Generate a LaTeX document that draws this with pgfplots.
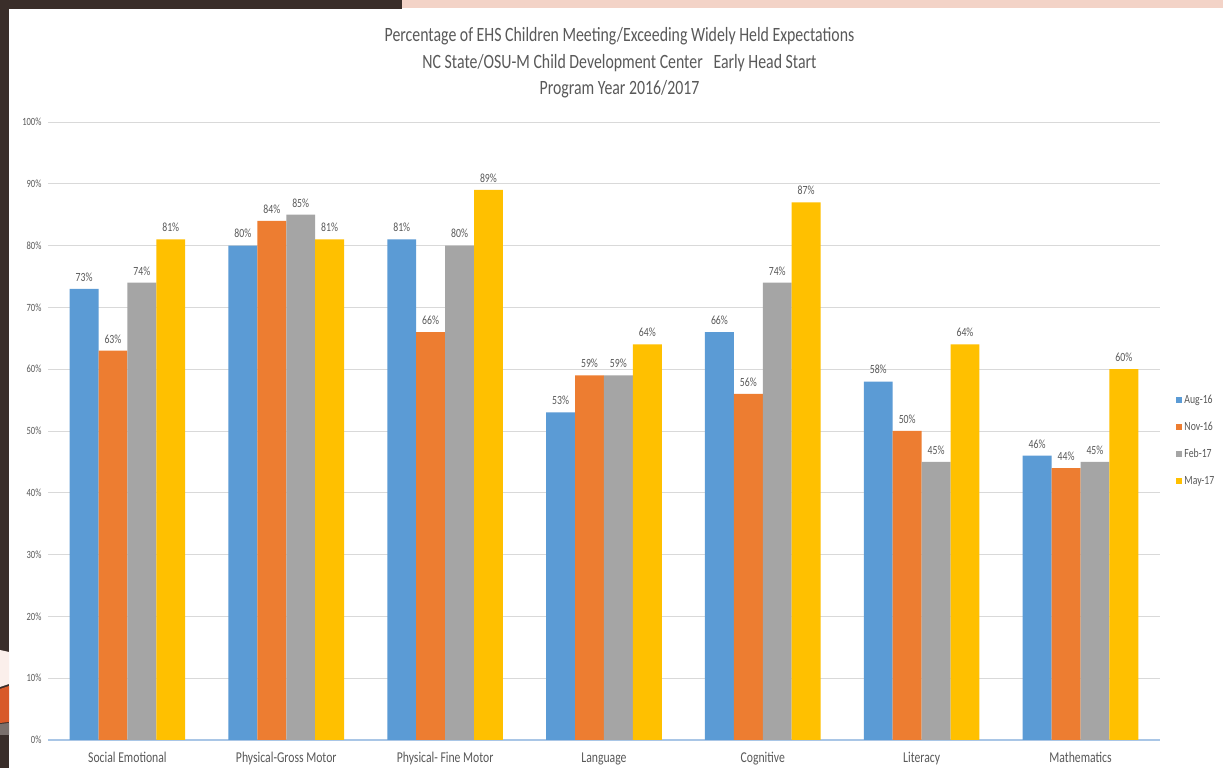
\documentclass[border=0pt]{standalone}
\usepackage{pgfplots}
\pgfplotsset{compat=1.18}
\usepackage{fontspec}
\setmainfont{Carlito}[FakeStretch=0.78]
\definecolor{cBlue}{HTML}{5B9BD5}
\definecolor{cOrange}{HTML}{ED7D31}
\definecolor{cGray}{HTML}{A5A5A5}
\definecolor{cYellow}{HTML}{FFC000}
\definecolor{txt}{HTML}{595959}
\definecolor{grid}{HTML}{D9D9D9}
\definecolor{axline}{HTML}{A9C6E6}
\definecolor{darkb}{HTML}{3A2E2A}
\definecolor{peach}{HTML}{F3D3C7}
\definecolor{lpeach}{HTML}{FBEFEB}
\definecolor{sorange}{HTML}{D85A2A}
\definecolor{sgray}{HTML}{7A706C}
\begin{document}
\begin{tikzpicture}[x=1pt,y=1pt]
\useasboundingbox (0,0) rectangle (1223,768);
\fill[white] (0,0) rectangle (1223,768);
% slide decoration
\fill[darkb] (0,0) rectangle (9,768);
\fill[darkb] (0,759) rectangle (402,768);
\fill[peach] (402,760) rectangle (1223,768);
\fill[lpeach] (0,81) -- (9,84) -- (9,116) -- (0,118) -- cycle;
\fill[sorange] (0,45) -- (9,46) -- (9,82) -- (0,79) -- cycle;
\fill[sgray] (0,33) -- (9,33) -- (9,45) -- (0,44) -- cycle;
% title
\node[text=txt, align=center, font=\fontsize{20.3}{26.5}\selectfont] at (619.5,705)
  {Percentage of EHS Children Meeting/Exceeding Widely Held Expectations\\
   NC State/OSU-M Child Development Center\ \ \ Early Head Start\\
   Program Year 2016/2017};
\begin{axis}[
  at={(48pt,28pt)}, anchor=south west,
  scale only axis, width=1112pt, height=618pt,
  xmin=-0.5, xmax=6.5, ymin=0, ymax=100,
  ybar=0pt, bar width=0.182,
  /pgf/number format/assume math mode=true,
  axis x line*=bottom, axis y line*=left,
  x axis line style={draw=axline, line width=1.2pt},
  y axis line style={draw=none},
  major tick length=0,
  ytick={0,10,...,100},
  yticklabel={\pgfmathprintnumber{\tick}\%},
  yticklabel style={font=\fontsize{11}{13}\selectfont, text=txt, xshift=-3pt},
  ymajorgrids, grid style={draw=grid, line width=0.8pt},
  xtick={0,...,6},
  xticklabels={Social Emotional, Physical-Gross Motor, Physical- Fine Motor, Language, Cognitive, Literacy, Mathematics},
  xticklabel style={font=\fontsize{15}{17}\selectfont, text=txt, yshift=-9pt},
  nodes near coords={\pgfmathprintnumber{\pgfplotspointmeta}\%},
  every node near coord/.append style={font=\fontsize{12.5}{14}\selectfont, text=txt, yshift=4pt},
  legend style={at={(1.012,0.485)}, anchor=west, draw=none, fill=none,
    font=\fontsize{12.5}{14}\selectfont, text=txt, row sep=13pt},
  legend cell align=left,
  legend image code/.code={\fill[#1,draw=none] (0pt,-3pt) rectangle (6pt,3pt);},
]
\addplot[fill=cBlue, draw=none] coordinates {(0,73) (1,80) (2,81) (3,53) (4,66) (5,58) (6,46)};
\addplot[fill=cOrange, draw=none] coordinates {(0,63) (1,84) (2,66) (3,59) (4,56) (5,50) (6,44)};
\addplot[fill=cGray, draw=none] coordinates {(0,74) (1,85) (2,80) (3,59) (4,74) (5,45) (6,45)};
\addplot[fill=cYellow, draw=none] coordinates {(0,81) (1,81) (2,89) (3,64) (4,87) (5,64) (6,60)};
\legend{Aug-16, Nov-16, Feb-17, May-17}
\end{axis}
\end{tikzpicture}
\end{document}
